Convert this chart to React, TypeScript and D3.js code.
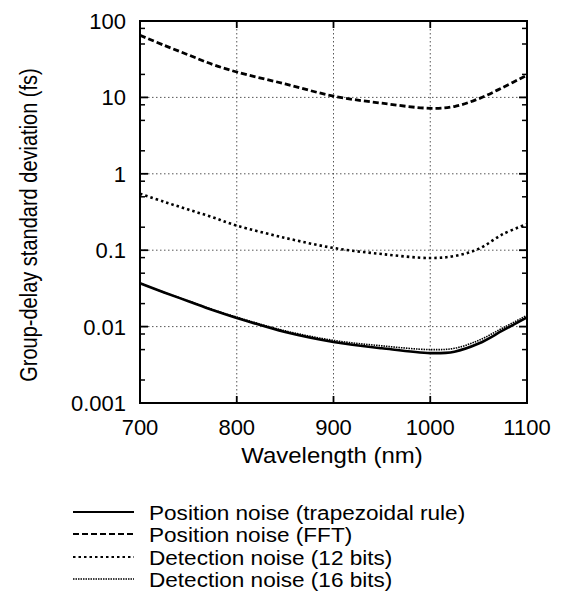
import React, { useEffect, useRef } from 'react';
import * as d3 from 'd3';

const wavelengths = [700, 725, 750, 775, 800, 850, 900, 950, 1000, 1025, 1050, 1075, 1100];
const positionTrapezoid = [0.037, 0.028, 0.0215, 0.0165, 0.013, 0.0085, 0.0063, 0.0052, 0.0045, 0.0047, 0.006, 0.0089, 0.0132];
const positionFFT = [65, 48, 36, 27, 21.5, 15, 10.4, 8.4, 7.2, 7.6, 9.6, 13.5, 19.6];
const detection12 = [0.55, 0.43, 0.34, 0.27, 0.21, 0.145, 0.107, 0.089, 0.079, 0.084, 0.104, 0.162, 0.22];
const detection16 = [0.037, 0.028, 0.0217, 0.0167, 0.0133, 0.0088, 0.0066, 0.0056, 0.005, 0.0052, 0.0066, 0.0096, 0.014];

const xTicks = [700, 800, 900, 1000, 1100];
const yTicks = [0.001, 0.01, 0.1, 1, 10, 100];
const yTickLabels = ['0.001', '0.01', '0.1', '1', '10', '100'];

const seriesNames = [
  'Position noise (trapezoidal rule)',
  'Position noise (FFT)',
  'Detection noise (12 bits)',
  'Detection noise (16 bits)',
];
const seriesValues = [positionTrapezoid, positionFFT, detection12, detection16];
const seriesStyles = [
  { width: 2.6, dash: null },
  { width: 2.8, dash: '6,3' },
  { width: 2.6, dash: '2.5,3' },
  { width: 1.6, dash: '1.5,1' },
];

function App() {
  const ref = useRef<SVGSVGElement | null>(null);

  useEffect(() => {
    const svg = d3.select(ref.current);
    svg.selectAll('*').remove();

    const left = 140, right = 527, top = 21, bottom = 403;
    const font = 'Liberation Sans, Arial, sans-serif';

    const x = d3.scaleLinear().domain([700, 1100]).range([left, right]);
    const y = d3.scaleLog().domain([0.001, 100]).range([bottom, top]);

    const g = svg.append('g');

    // grid
    g.selectAll(null)
      .data(xTicks.slice(1, -1))
      .enter().append('line')
      .attr('x1', d => x(d)).attr('x2', d => x(d))
      .attr('y1', top).attr('y2', bottom)
      .attr('stroke', '#444').attr('stroke-width', 0.9)
      .attr('stroke-dasharray', '1.5,2.5');
    g.selectAll(null)
      .data(yTicks.slice(1, -1))
      .enter().append('line')
      .attr('x1', left).attr('x2', right)
      .attr('y1', d => y(d)).attr('y2', d => y(d))
      .attr('stroke', '#444').attr('stroke-width', 0.9)
      .attr('stroke-dasharray', '1.5,2.5');

    // ticks, pointing inward on all four sides
    const minor: number[] = [];
    [0.001, 0.01, 0.1, 1, 10].forEach(d => [2, 5, 8].forEach(m => minor.push(d * m)));
    [left, right].forEach((px, i) => {
      const dir = i === 0 ? 1 : -1;
      g.selectAll(null)
        .data(minor)
        .enter().append('line')
        .attr('x1', px).attr('x2', px + dir * 5)
        .attr('y1', d => y(d)).attr('y2', d => y(d))
        .attr('stroke', '#000').attr('stroke-width', 1.5);
      g.selectAll(null)
        .data(yTicks)
        .enter().append('line')
        .attr('x1', px).attr('x2', px + dir * 8)
        .attr('y1', d => y(d)).attr('y2', d => y(d))
        .attr('stroke', '#000').attr('stroke-width', 1.8);
    });
    [top, bottom].forEach((py, i) => {
      const dir = i === 0 ? 1 : -1;
      g.selectAll(null)
        .data(xTicks)
        .enter().append('line')
        .attr('x1', d => x(d)).attr('x2', d => x(d))
        .attr('y1', py).attr('y2', py + dir * 7)
        .attr('stroke', '#000').attr('stroke-width', 1.8);
    });

    // curves
    const line = d3.line<number>()
      .x((_, i) => x(wavelengths[i]))
      .y(d => y(d))
      .curve(d3.curveCatmullRom.alpha(0.5));

    seriesValues.forEach((vals, i) => {
      const st = seriesStyles[i];
      const p = g.append('path')
        .attr('d', line(vals))
        .attr('fill', 'none')
        .attr('stroke', '#000')
        .attr('stroke-width', st.width);
      if (st.dash) p.attr('stroke-dasharray', st.dash);
    });

    // frame
    g.append('rect')
      .attr('x', left).attr('y', top)
      .attr('width', right - left).attr('height', bottom - top)
      .attr('fill', 'none').attr('stroke', '#000').attr('stroke-width', 2);

    // tick labels
    g.selectAll(null)
      .data(xTicks)
      .enter().append('text')
      .attr('x', d => x(d)).attr('y', 435)
      .attr('text-anchor', 'middle')
      .attr('font-family', font).attr('font-size', 22)
      .text(d => d);
    g.selectAll(null)
      .data(yTicks)
      .enter().append('text')
      .attr('x', 126).attr('y', d => y(d) + 8)
      .attr('text-anchor', 'end')
      .attr('font-family', font).attr('font-size', 22)
      .text((_, i) => yTickLabels[i]);

    // axis titles
    g.append('text')
      .attr('transform', 'translate(332,463) scale(1.09,1)')
      .attr('text-anchor', 'middle')
      .attr('font-family', font).attr('font-size', 22)
      .text('Wavelength (nm)');
    g.append('text')
      .attr('transform', 'translate(37,225) rotate(-90) scale(0.87,1)')
      .attr('text-anchor', 'middle')
      .attr('font-family', font).attr('font-size', 23)
      .text('Group-delay standard deviation (fs)');

    // legend
    const ly = [512, 534, 557, 579];
    seriesNames.forEach((name, i) => {
      const st = seriesStyles[i];
      const l = g.append('line')
        .attr('x1', 73).attr('x2', 134)
        .attr('y1', ly[i]).attr('y2', ly[i])
        .attr('stroke', '#000')
        .attr('stroke-width', Math.min(st.width, 2));
      if (st.dash) l.attr('stroke-dasharray', st.dash);
      g.append('text')
        .attr('transform', `translate(149,${ly[i] + 7.5}) scale(1.075,1)`)
        .attr('font-family', font).attr('font-size', 21)
        .text(name);
    });
  }, []);

  return (
    <svg ref={ref} width={561} height={597}
      style={{ position: 'absolute', left: 0, top: 0, background: '#fff' }} />
  );
}

export default App;
